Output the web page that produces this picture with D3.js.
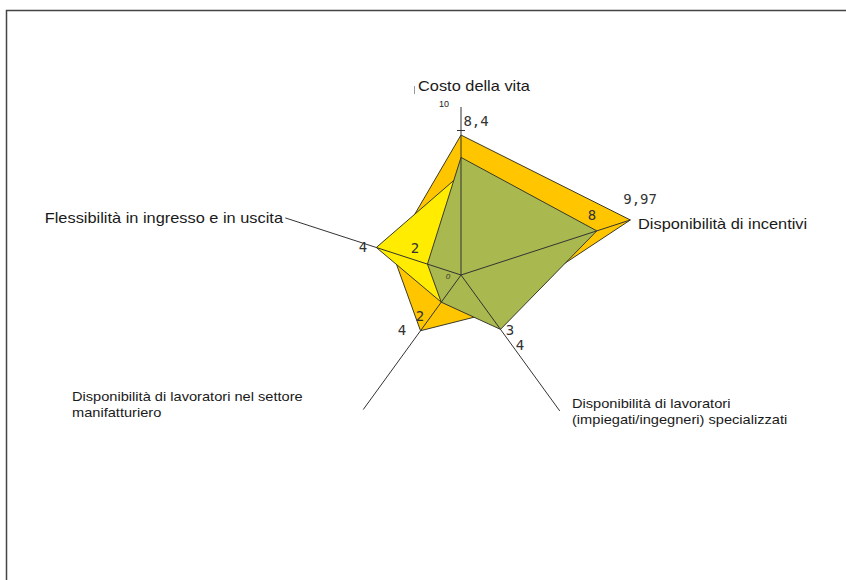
<!DOCTYPE html>
<html>
<head>
<meta charset="utf-8">
<script src="https://cdn.jsdelivr.net/npm/d3@7"></script>
<style>
  body { margin: 0; background: #fff; }
  svg { display: block; }
</style>
</head>
<body>
<div id="chart"></div>
<script>
// axes (clockwise from top)
const axisNames = [
    "Costo della vita",
    "Disponibilità di incentivi",
    "Disponibilità di lavoratori\n(impiegati/ingegneri) specializzati",
    "Disponibilità di lavoratori nel settore\nmanifatturiero",
    "Flessibilità in ingresso e in uscita"
];
// how far each axis line reaches, in value units
const axisReach = [10, 10.6, 10, 9.9, 11];

// series values as drawn (scale 0..10)
const seriesOrange = [8.33, 10.6, 2.83, 4.1, 4.3];
const seriesYellow = [6.0, 6.0, 2.5, 2.0, 5.3];
const seriesGreen = [7.0, 8.5, 4.0, 2.0, 2.1];

// printed value labels: text, angle (deg), radius (value units)
const valueLabels = [
    ["8,4", 84.4, 9.21],
    ["9,97", 23.0, 11.58],
    ["8", 24.6, 8.58],
    ["4", 164.1, 6.07],
    ["2", 149.6, 3.17],
    ["4", 223, 4.8],
    ["2", 225, 3.45],
    ["3", 311.7, 4.39],
    ["4", 310.1, 5.45]
];
const scaleTicks = ["0", "10"];

const width = 846, height = 580;
const cx = 461, cy = 275, R = 168;

const svg = d3.select("#chart").append("svg")
    .attr("width", width)
    .attr("height", height);

// frame
svg.append("path")
    .attr("d", "M6.5," + (height + 5) + "V10.5H" + (width + 5))
    .attr("fill", "none")
    .attr("stroke", "#444")
    .attr("stroke-width", 1.5);

const r = d3.scaleLinear().domain([0, 10]).range([0, R]);
const angle = i => (90 - i * 72) * Math.PI / 180;
const px = (a, v) => cx + r(v) * Math.cos(a);
const py = (a, v) => cy - r(v) * Math.sin(a);

const line = d3.line()
    .x((d, i) => px(angle(i), d))
    .y((d, i) => py(angle(i), d))
    .curve(d3.curveLinearClosed);

const series = [
    { values: seriesOrange, color: "#ffc600" },
    { values: seriesYellow, color: "#ffec00" },
    { values: seriesGreen, color: "#a9b84f" }
];

svg.append("g")
    .selectAll("path")
    .data(series)
    .enter().append("path")
    .attr("d", d => line(d.values))
    .attr("fill", d => d.color)
    .attr("stroke", "#3a3a2a")
    .attr("stroke-width", 1)
    .attr("stroke-linejoin", "round");

// axis lines on top
svg.append("g")
    .selectAll("line")
    .data(axisReach)
    .enter().append("line")
    .attr("x1", cx)
    .attr("y1", cy)
    .attr("x2", (d, i) => px(angle(i), d))
    .attr("y2", (d, i) => py(angle(i), d))
    .attr("stroke", "#333")
    .attr("stroke-width", 1);

// small tick at the 8,4 point
svg.append("line")
    .attr("x1", cx - 4).attr("x2", cx + 4)
    .attr("y1", py(angle(0), 8.6)).attr("y2", py(angle(0), 8.6))
    .attr("stroke", "#333");

// scale labels
svg.append("text")
    .attr("x", cx - 12).attr("y", py(angle(0), 10))
    .attr("text-anchor", "end")
    .attr("font-family", "Liberation Sans, Arial, sans-serif")
    .attr("font-size", 9)
    .attr("fill", "#222")
    .text(scaleTicks[1]);
svg.append("text")
    .attr("x", cx - 13).attr("y", cy + 1)
    .attr("text-anchor", "middle")
    .attr("dominant-baseline", "central")
    .attr("font-family", "Liberation Sans, Arial, sans-serif")
    .attr("font-size", 8)
    .attr("font-style", "italic")
    .attr("fill", "#333")
    .text(scaleTicks[0]);

// value labels
svg.append("g")
    .selectAll("text")
    .data(valueLabels)
    .enter().append("text")
    .attr("x", d => px(d[1] * Math.PI / 180, d[2]))
    .attr("y", d => py(d[1] * Math.PI / 180, d[2]))
    .attr("text-anchor", "middle")
    .attr("dominant-baseline", "central")
    .attr("font-family", "DejaVu Sans Mono, monospace")
    .attr("font-size", 14)
    .attr("fill", "#333")
    .text(d => d[0]);

// axis titles (the source text is drawn a bit wide, so stretch horizontally)
const titlePos = [
    { x: 418, y: 91, anchor: "start", size: 14 },
    { x: 638, y: 229, anchor: "start", size: 14 },
    { x: 572, y: 408, anchor: "start", size: 12.5 },
    { x: 72, y: 401, anchor: "start", size: 12.5 },
    { x: 283, y: 223, anchor: "end", size: 14 }
];
const stretch = 1.17;

svg.append("g")
    .selectAll("text")
    .data(axisNames)
    .enter().append("text")
    .attr("transform", (d, i) => "translate(" + titlePos[i].x + "," + titlePos[i].y + ") scale(" + stretch + ",1)")
    .attr("text-anchor", (d, i) => titlePos[i].anchor)
    .attr("font-family", "Liberation Sans, Arial, sans-serif")
    .attr("font-size", (d, i) => titlePos[i].size)
    .attr("fill", "#1a1a1a")
    .each(function (d) {
        const t = d3.select(this);
        d.split("\n").forEach((part, k) => {
            t.append("tspan")
                .attr("x", 0)
                .attr("dy", k === 0 ? 0 : 16)
                .text(part);
        });
    });

// little caret mark left of the top title
svg.append("line")
    .attr("x1", 414.5).attr("x2", 414.5)
    .attr("y1", 86).attr("y2", 94)
    .attr("stroke", "#999")
    .attr("stroke-width", 1);
</script>
</body>
</html>
